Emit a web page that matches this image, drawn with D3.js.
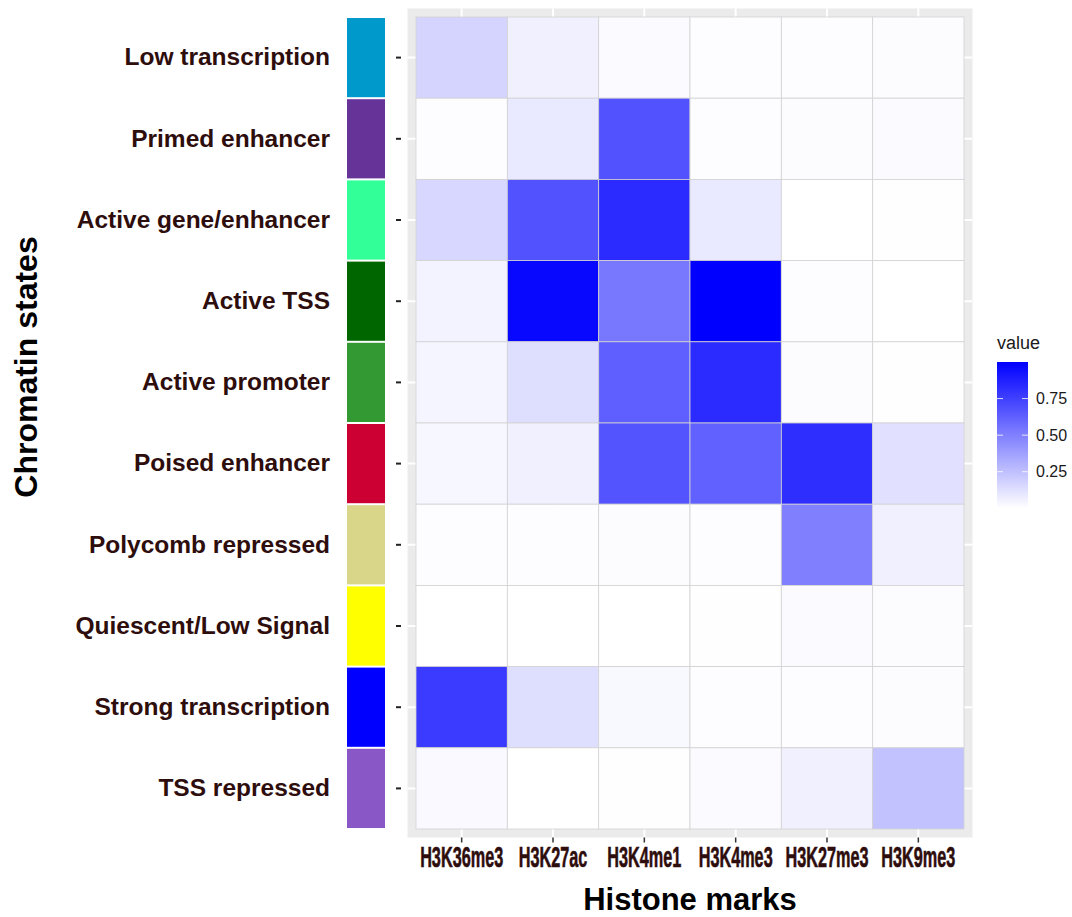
<!DOCTYPE html>
<html>
<head>
<meta charset="utf-8">
<script src="https://cdn.jsdelivr.net/npm/d3@7"></script>
<style>
  html, body { margin: 0; padding: 0; background: #ffffff; }
  svg { display: block; font-family: "Liberation Sans", Arial, Helvetica, sans-serif; }
</style>
</head>
<body>
<svg id="chart" width="1072" height="917"></svg>
<script>
// ---- data ----
const states = ["Low transcription", "Primed enhancer", "Active gene/enhancer", "Active TSS",
  "Active promoter", "Poised enhancer", "Polycomb repressed", "Quiescent/Low Signal",
  "Strong transcription", "TSS repressed"];
const stateColors = ["#0099cc", "#663399", "#33ff99", "#006600", "#339933",
  "#cc0033", "#d9d68a", "#ffff00", "#0000ff", "#8a57c7"];
const marks = ["H3K36me3", "H3K27ac", "H3K4me1", "H3K4me3", "H3K27me3", "H3K9me3"];
// one array per histone mark, values in order of `states`
const H3K36me3 = [0.17, 0.010, 0.16, 0.05, 0.040, 0.035, 0.010, 0.003, 0.77, 0.025];
const H3K27ac  = [0.06, 0.090, 0.68, 0.97, 0.130, 0.060, 0.010, 0.003, 0.13, 0.003];
const H3K4me1  = [0.02, 0.680, 0.83, 0.53, 0.630, 0.670, 0.012, 0.003, 0.03, 0.006];
const H3K4me3  = [0.01, 0.010, 0.09, 1.00, 0.830, 0.620, 0.010, 0.005, 0.01, 0.020];
const H3K27me3 = [0.01, 0.015, 0.002, 0.01, 0.015, 0.820, 0.500, 0.020, 0.008, 0.060];
const H3K9me3  = [0.015, 0.020, 0.005, 0.003, 0.005, 0.120, 0.060, 0.015, 0.015, 0.240];
const legendTicks = [0.25, 0.50, 0.75];

const series = { H3K36me3, H3K27ac, H3K4me1, H3K4me3, H3K27me3, H3K9me3 };
const cells = [];
marks.forEach(m => states.forEach((s, i) => cells.push({ mark: m, state: s, value: series[m][i] })));

// ---- layout ----
const svg = d3.select("#chart");
const tile = { x0: 416, x1: 964, y0: 17, y1: 829 };
const pad = 8.5;
const labelColor = "#2e0d0d";
const FONT = "'Liberation Sans', Arial, sans-serif";

const x = d3.scaleBand().domain(marks).range([tile.x0, tile.x1]);
const y = d3.scaleBand().domain(states).range([tile.y0, tile.y1]);
const vmin = d3.min(cells, d => d.value), vmax = d3.max(cells, d => d.value);
const color = d3.scaleSequential(d3.interpolateRgb("#ffffff", "#0000ff")).domain([vmin, vmax]);

// panel background
svg.append("rect")
  .attr("x", tile.x0 - pad).attr("y", tile.y0 - pad)
  .attr("width", tile.x1 - tile.x0 + 2 * pad).attr("height", tile.y1 - tile.y0 + 2 * pad)
  .attr("fill", "#ebebeb");

// grid lines (white, only visible in margins)
const grid = svg.append("g").attr("stroke", "#ffffff").attr("stroke-width", 2);
grid.selectAll("line.v").data(marks).join("line")
  .attr("x1", d => x(d) + x.bandwidth() / 2).attr("x2", d => x(d) + x.bandwidth() / 2)
  .attr("y1", tile.y0 - pad).attr("y2", tile.y1 + pad);
grid.selectAll("line.h").data(states).join("line")
  .attr("y1", d => y(d) + y.bandwidth() / 2).attr("y2", d => y(d) + y.bandwidth() / 2)
  .attr("x1", tile.x0 - pad).attr("x2", tile.x1 + pad);

// tiles
svg.append("g").selectAll("rect").data(cells).join("rect")
  .attr("x", d => x(d.mark)).attr("y", d => y(d.state))
  .attr("width", x.bandwidth()).attr("height", y.bandwidth())
  .attr("fill", d => color(d.value))
  .attr("stroke", "#d3d3d3").attr("stroke-width", 0.8);

// state colour strip
svg.append("g").selectAll("rect").data(states).join("rect")
  .attr("x", 347).attr("y", d => y(d) + 1)
  .attr("width", 38).attr("height", y.bandwidth() - 2)
  .attr("fill", (d, i) => stateColors[i]);

// y axis
const yAxis = svg.append("g").attr("transform", "translate(401,0)")
  .call(d3.axisLeft(y).tickSize(5).tickPadding(66));
yAxis.select(".domain").remove();
yAxis.selectAll(".tick line").attr("stroke", "#222").attr("stroke-width", 2);
yAxis.selectAll(".tick text")
  .attr("fill", labelColor).attr("font-size", 24.5).attr("font-weight", "bold")
  .attr("font-family", FONT);

// x axis
const xAxis = svg.append("g").attr("transform", `translate(0,${tile.y1 + pad})`)
  .call(d3.axisBottom(x).tickSize(5).tickPadding(4));
xAxis.select(".domain").remove();
xAxis.selectAll(".tick line").attr("stroke", "#333").attr("stroke-width", 1.5);
xAxis.selectAll(".tick text")
  .attr("fill", labelColor).attr("font-size", 29).attr("font-weight", "bold")
  .attr("stroke", labelColor).attr("stroke-width", 0.6)
  .attr("font-family", FONT)
  .attr("transform", "scale(0.56,1)");

// axis titles
svg.append("text")
  .attr("x", (tile.x0 + tile.x1) / 2).attr("y", 910)
  .attr("text-anchor", "middle").attr("font-size", 31).attr("font-weight", "bold")
  .attr("fill", "#000").text("Histone marks");
svg.append("text")
  .attr("transform", `translate(37,367) rotate(-90)`)
  .attr("text-anchor", "middle").attr("font-size", 32).attr("font-weight", "bold")
  .attr("fill", "#000").text("Chromatin states");

// legend
const lg = { x: 997, y0: 362, y1: 508, w: 31 };
const defs = svg.append("defs");
const grad = defs.append("linearGradient").attr("id", "lgrad")
  .attr("x1", 0).attr("y1", 1).attr("x2", 0).attr("y2", 0);
d3.range(0, 1.0001, 0.05).forEach(t => {
  grad.append("stop").attr("offset", t).attr("stop-color", color(vmin + t * (vmax - vmin)));
});
svg.append("text").attr("x", lg.x).attr("y", 349)
  .attr("font-size", 18).attr("fill", "#1a1a1a").text("value");
svg.append("rect").attr("x", lg.x).attr("y", lg.y0)
  .attr("width", lg.w).attr("height", lg.y1 - lg.y0).attr("fill", "url(#lgrad)");
const ly = d3.scaleLinear().domain([vmin, vmax]).range([lg.y1, lg.y0]);
const lAxis = svg.append("g").attr("transform", `translate(${lg.x + lg.w},0)`)
  .call(d3.axisRight(ly).tickValues(legendTicks).tickFormat(d3.format(".2f")).tickSize(0).tickPadding(8));
lAxis.select(".domain").remove();
lAxis.selectAll(".tick text").attr("font-size", 16).attr("fill", "#1a1a1a")
  .attr("font-family", FONT);
const lt = svg.append("g").attr("stroke", "#ffffff").attr("stroke-width", 1).attr("opacity", 0.8);
legendTicks.forEach(v => {
  lt.append("line").attr("x1", lg.x).attr("x2", lg.x + 6).attr("y1", ly(v)).attr("y2", ly(v));
  lt.append("line").attr("x1", lg.x + lg.w - 6).attr("x2", lg.x + lg.w).attr("y1", ly(v)).attr("y2", ly(v));
});
</script>
</body>
</html>
